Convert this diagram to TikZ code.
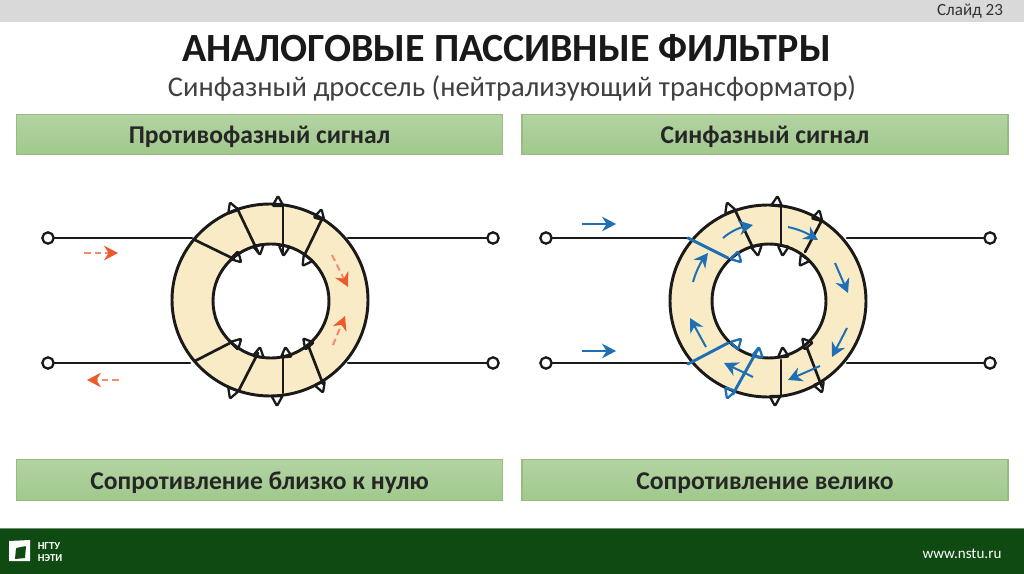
\documentclass[tikz,border=0pt]{standalone}
\usepackage{fontspec}
\setmainfont{Carlito}
\usetikzlibrary{arrows.meta}
\definecolor{barg}{HTML}{D9D9D9}
\definecolor{foot}{HTML}{0E4A12}
\definecolor{core}{HTML}{F9EBC5}
\definecolor{wire}{HTML}{1A1A1A}
\definecolor{sigred}{HTML}{EC5B2E}
\definecolor{sigblue}{HTML}{1F6FB5}
\definecolor{boxtop}{HTML}{B3D3A3}
\definecolor{boxbot}{HTML}{A0C98C}
\definecolor{boxline}{HTML}{9ABB7F}
\tikzset{
  x=0.75pt,y=-0.75pt,
  wireline/.style={draw=wire,line width=2pt,line cap=round,line join=round},
  term/.style={circle,draw=wire,fill=white,line width=1.7pt,minimum size=8.5pt,inner sep=0pt},
  band/.style={rectangle,draw=boxline,line width=0.8pt,top color=boxtop,bottom color=boxbot,minimum width=364.5pt,minimum height=30.5pt,inner sep=0pt,text height=16pt,text depth=2pt,font=\bfseries\fontsize{19.2}{22}\selectfont,text=black!85},
  sigarrow/.style={line width=1.5pt,-{Stealth[length=10.5pt,width=11pt]}},
  dashedarrow/.style={line width=1.5pt,draw=sigred!70,dash pattern=on 5pt off 3pt,-{Stealth[length=10.5pt,width=11pt,color=sigred]}},
}
\newcommand{\coil}[4]{%
  \draw[wireline] (#1,#2) -- (#3,#4);
}
\newcommand{\lp}[3][wire]{%
  \draw[draw=#1,line width=1.7pt,line join=round,rounded corners=0.8pt,rotate around={#3:(#2)}] (#2) ++(-5.5,4) -- ++(5.5,-10) -- ++(5.5,10) -- cycle;
}
\begin{document}
\begin{tikzpicture}
\useasboundingbox (0,0) rectangle (1024,574);
\fill[white] (0,0) rectangle (1024,574);
\fill[barg] (0,0) rectangle (1024,22);
\fill[foot] (0,528) rectangle (1024,574);
\draw[foot!60!white,line width=0.5pt] (0,528) -- (1024,528);
\node[text=black!80] (slide) at (970,11) {\fontsize{12.8}{15}\selectfont Слайд 23};
\node[text=black!90] (title) at (506.5,48) {\bfseries\fontsize{30}{34}\selectfont АНАЛОГОВЫЕ ПАССИВНЫЕ ФИЛЬТРЫ};
\node[text=black!75] (sub) at (512,88) {\fontsize{21.4}{25}\selectfont Синфазный дроссель (нейтрализующий трансформатор)};
\node[band] (b1) at (259.5,134.5) {Противофазный сигнал};
\node[band] (b2) at (765,134.5) {Синфазный сигнал};
\node[band] (b3) at (259.5,480) {Сопротивление близко к нулю};
\node[band] (b4) at (765,480) {Сопротивление велико};
\node[text=white,font=\fontsize{11.3}{13}\selectfont] (web) at (962,554) {www.nstu.ru};
% logo
\fill[white] (9,541) -- (30,540) -- (30,561) -- (9,561) -- cycle;
\fill[foot] (16,548) -- (26,546) -- (25,558) -- (15,559) -- cycle;
\draw[white,line width=0.6pt] (9,556) -- (16,548) (20,544) -- (26,546);
\node[text=white,font=\bfseries\fontsize{8}{9}\selectfont,align=left,inner sep=0pt] (logo) at (50,552) {НГТУ\\НЭТИ};
% ---------- left
\coordinate (LA) at (192,238); \coordinate (LB) at (190,363);
\coordinate (LC) at (348,238); \coordinate (LD) at (348,363);
\node[term] (t1) at (48,238) {}; \node[term] (t2) at (48,363) {};
\node[term] (t3) at (493,238) {}; \node[term] (t4) at (493,363) {};
\draw[wireline] (t1) -- (LA); \draw[wireline] (t2) -- (LB);
\draw[wireline] (t3) -- (LC); \draw[wireline] (t4) -- (LD);
\fill[core,even odd rule] (270,300) ellipse [x radius=98,y radius=96] (271,301) ellipse [x radius=58,y radius=57];
\draw[wireline,line width=2.2pt] (270,300) ellipse [x radius=98,y radius=96];
\draw[wireline,line width=2.2pt] (271,301) ellipse [x radius=58,y radius=57];
\coil{195}{240}{234}{259}\coil{237}{208}{258}{252}\coil{283}{205}{283}{252}\coil{322}{219}{305}{254}
\coil{195}{361}{230}{343}\coil{239}{390}{258}{353}\coil{283}{393}{283}{353}\coil{323}{384}{308}{345}
\lp{232,208}{20}\lp{278,202}{0}\lp{320,215}{-15}
\lp{232,393}{160}\lp{277,400}{180}\lp{321,387}{200}
\lp{237,258}{225}\lp{259,249}{190}\lp{284,250}{175}\lp{306,261}{145}
\lp{237,343}{-45}\lp{259,353}{-10}\lp{286,353}{5}\lp{307,343}{40}
\draw[dashedarrow] (84,253) -- (118,253);
\draw[dashedarrow] (119,380) -- (87,380);
\draw[dashedarrow] (332,255) -- (348,287);
\draw[dashedarrow] (333,345) -- (345,316);
% ---------- right
\coordinate (RA) at (687,238); \coordinate (RB) at (687,363);
\coordinate (RC) at (847,238); \coordinate (RD) at (847,363);
\node[term] (t5) at (546,238) {}; \node[term] (t6) at (546,363) {};
\node[term] (t7) at (990,238) {}; \node[term] (t8) at (990,363) {};
\draw[wireline] (t5) -- (RA); \draw[wireline] (t6) -- (RB);
\draw[wireline] (t7) -- (RC); \draw[wireline] (t8) -- (RD);
\fill[core,even odd rule] (768,301) ellipse [x radius=98,y radius=96] (769,301) ellipse [x radius=57,y radius=57];
\draw[wireline,line width=2.2pt] (768,301) ellipse [x radius=98,y radius=96];
\draw[wireline,line width=2.2pt] (769,301) ellipse [x radius=57,y radius=57];
\coil{735}{210}{753}{248}\coil{781}{207}{781}{245}\coil{822}{220}{805}{252}
\coil{781}{395}{781}{360}\coil{822}{387}{807}{348}
\lp{729,208}{20}\lp{777,202}{-5}\lp{818,216}{-15}
\lp{757,250}{190}\lp{783,250}{175}\lp{803,261}{145}
\lp{775,400}{180}\lp{820,387}{200}
\lp{783,353}{5}\lp{806,343}{40}
\begin{scope}[sigblue,draw=sigblue]
\draw[line width=2.2pt,line cap=round] (688,238) -- (728,258);
\draw[line width=2.2pt,line cap=round] (688,364) -- (728,343);
\draw[line width=2.2pt,line cap=round] (733,394) -- (758,349);
\lp[sigblue]{737,258}{225}\lp[sigblue]{737,343}{-45}\lp[sigblue]{758,353}{-10}\lp[sigblue]{729,393}{160}
\draw[sigarrow] (582,224) -- (616,224);
\draw[sigarrow] (582,351) -- (616,351);
\draw[sigarrow] (723,238) .. controls (730,232) and (738,228) .. (753,225);
\draw[sigarrow] (788,227) .. controls (797,229) and (805,232) .. (818,240);
\draw[sigarrow] (835,263) -- (848,293);
\draw[sigarrow] (847,328) -- (832,357);
\draw[sigarrow] (820,366) -- (788,380);
\draw[sigarrow] (753,377) -- (724,363);
\draw[sigarrow] (706,347) -- (690,318);
\draw[sigarrow] (693,282) .. controls (696,271) and (701,262) .. (708,253);
\end{scope}
\end{tikzpicture}
\end{document}
